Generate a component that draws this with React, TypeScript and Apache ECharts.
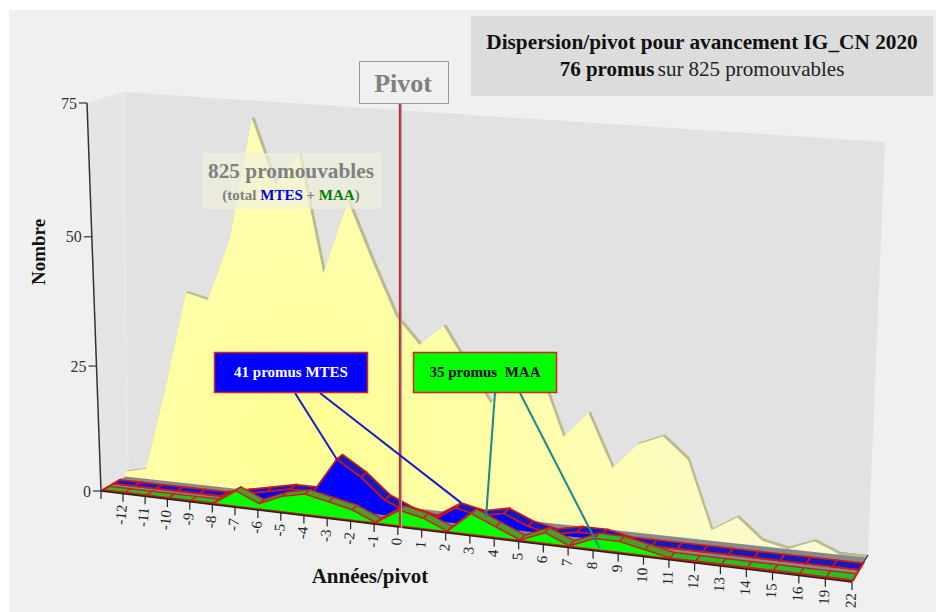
import React, { useEffect, useRef } from "react";
import * as echarts from "echarts";

const categories = ["", "-12", "-11", "-10", "-9", "-8", "-7", "-6", "-5", "-4", "-3", "-2", "-1", "0", "1", "2", "3", "4", "5", "6", "7", "8", "9", "10", "11", "12", "13", "14", "15", "16", "19", "22"];
const totalValues = [1, 2, 19, 38, 37, 49, 72, 60, 66, 44, 58, 47, 37, 32, 36, 29, 22, 29, 29, 17, 22, 12, 17, 19, 15, 2, 5, 1, 0, 2, 0, 0];
const mtesValues = [0, 0, 0, 0, 0, 0, 1, 2, 3, 3, 10, 7, 3, 1, 0, 3, 2, 3, 1, 0, 1, 1, 0, 0, 0, 0, 0, 0, 0, 0, 0, 0];
const maaValues = [0, 0, 0, 0, 0, 0, 3, 1, 3, 4, 3, 2, 0, 3, 2, 0, 4, 2, 0, 2, 0, 2, 2, 1, 0, 0, 0, 0, 0, 0, 0, 0];
const yTicks = [0, 25, 50, 75];

const GRID = { left: 100, top: 100, width: 700, height: 400 };
type P2 = [number, number];
const FL0: P2 = [101, 491], FR0: P2 = [852, 582], BR0: P2 = [868, 555], BL0: P2 = [128, 475];
const FL1: P2 = [87, 103], FR1: P2 = [861, 164], BR1: P2 = [885, 142], BL1: P2 = [123, 92];
const warp = (s: number, w: number) => (s * w) / (1 + s * (w - 1));
const lerp = (a: P2, b: P2, t: number): P2 => [a[0] + (b[0] - a[0]) * t, a[1] + (b[1] - a[1]) * t];
function project(s: number, d: number, h: number): P2 {
  const bump = s < 0.36 ? Math.sin((Math.PI * s) / 0.36) : 0;
  const sw = warp(s, 0.905) - 0.006 * d * bump;
  const hw = warp(h, 0.95);
  const f0 = lerp(FL0, FR0, sw), b0 = lerp(BL0, BR0, sw);
  const f1 = lerp(FL1, FR1, sw), b1 = lerp(BL1, BR1, sw);
  return lerp(lerp(f0, b0, d), lerp(f1, b1, d), hw);
}
function pt(api: any, u: number, v: number, d: number): P2 {
  const c = api.coord([u, v]);
  return project((c[0] - GRID.left) / GRID.width, d, (GRID.top + GRID.height - c[1]) / GRID.height);
}
const poly = (points: P2[], style: any) => ({ type: "polygon", shape: { points }, style });
const line = (points: P2[], stroke: string, lineWidth: number) => ({ type: "polyline", shape: { points }, style: { stroke, lineWidth, fill: "none" } });

function ribbon(values: number[], z0: number, z1: number, o: any) {
  return (params: any, api: any) => {
    if (params.dataIndex !== values.length - 1) return null;
    const children: any[] = [];
    for (let i = 0; i < values.length - 1; i++) {
      const sloped = values[i] !== values[i + 1];
      children.push(poly(
        [pt(api, i, values[i], z0), pt(api, i + 1, values[i + 1], z0), pt(api, i + 1, values[i + 1], z1), pt(api, i, values[i], z1)],
        { fill: sloped ? o.topSlope : o.topFlat, stroke: o.edge || o.topSlope, lineWidth: o.edgeWidth },
      ));
    }
    const top = values.map((v, i) => pt(api, i, v, z0));
    const base = [pt(api, values.length - 1, 0, z0), pt(api, 0, 0, z0)];
    children.push(poly([...top, ...base], { fill: o.face }));
    if (o.edge) children.push(line(top, o.edge, o.edgeWidth));
    return { type: "group", children };
  };
}

const yellowFill = {
  type: "radial", x: 300, y: 440, r: 640, global: true,
  colorStops: [{ offset: 0, color: "#ffff94" }, { offset: 0.5, color: "#fdfdb6" }, { offset: 1, color: "#f7f7e2" }],
};
const SERIF = '"Liberation Serif", serif';

function buildOption() {
  const single = [[0, 0]];
  const custom = (name: string, z: number, data: any[], renderItem: any) => ({
    type: "custom", name, z, data, renderItem, silent: true, clip: false,
    coordinateSystem: "cartesian2d", encode: { x: 0, y: 1 },
  });
  return {
    animation: false,
    grid: GRID,
    xAxis: { type: "value", min: 0, max: categories.length - 1, show: false },
    yAxis: { type: "value", min: 0, max: 75, show: false },
    series: [
      custom("walls", 2, single, (_p: any, api: any) => ({
        type: "group",
        children: [
          poly([pt(api, 0, 75, 0), pt(api, 0, 75, 1), pt(api, 0, 0, 1), pt(api, 0, 0, 0)], { fill: "#e5e5e5" }),
          poly([pt(api, 0, 75, 1), pt(api, 31, 75, 1), pt(api, 31, 0, 1), pt(api, 0, 0, 1)], { fill: "#e2e2e2" }),
          line([pt(api, 0, 75, 1), pt(api, 0, 0, 1)], "#ececec", 1),
        ],
      })),
      custom("floor", 3, single, (_p: any, api: any) =>
        poly([pt(api, 0, 0, 0), pt(api, 31, 0, 0), pt(api, 31, 0, 1), pt(api, 0, 0, 1)], { fill: "#888888" })),
      custom("Total", 4, totalValues.map((v, i) => [i, v]), ribbon(totalValues, 0.9, 1, { face: yellowFill, topFlat: "#bdba8e", topSlope: "#bdba8e", edgeWidth: 0 })),
      custom("MTES", 5, mtesValues.map((v, i) => [i, v]), ribbon(mtesValues, 0.45, 0.7, { face: "#0000ff", topFlat: "#1818c0", topSlope: "#1818c0", edge: "#d01818", edgeWidth: 1.6 })),
      custom("MAA", 6, maaValues.map((v, i) => [i, v]), ribbon(maaValues, 0.07, 0.3, { face: "#00ff00", topFlat: "#22c022", topSlope: "#4f9a2c", edge: "#c82218", edgeWidth: 1.4 })),
      custom("frame", 7, single, (_p: any, api: any) => ({
        type: "group",
        children: [
          line([pt(api, 0, 0, 0.04), pt(api, 31, 0, 0.04)], "#d01818", 2),
          line([pt(api, 0, 0, 0.04), pt(api, 0, 0, 0.75)], "#d01818", 2),
          line([pt(api, 31, 0, 0.04), pt(api, 31, 0, 0.75)], "#d01818", 2),
          line([pt(api, 31, 0, 0.75), pt(api, 31, 0, 1)], "#333", 1.2),
          line([pt(api, 0, 0, 0), pt(api, 31, 0, 0)], "#222", 1.5),
          line([pt(api, 0, 75, 0), pt(api, 0, 0, 0)], "#333", 1.5),
        ],
      })),
      custom("xTicks", 8, categories.map((c, i) => [i, 0, c]), (p: any, api: any) => {
        const label = categories[p.dataIndex];
        const a = pt(api, p.dataIndex, 0, 0);
        const rot = ((84 + (4 * p.dataIndex) / 31) * Math.PI) / 180;
        return {
          type: "group",
          children: [
            line([a, [a[0], a[1] + 8]], "#222", 1.2),
            { type: "text", x: a[0] - 1, y: a[1] + 11, rotation: rot, style: { text: label, align: "right", verticalAlign: "middle", font: `15px ${SERIF}`, fill: "#222" } },
          ],
        };
      }),
      custom("yTicks", 8, yTicks.map((v) => [0, v]), (p: any, api: any) => {
        const a = pt(api, 0, yTicks[p.dataIndex], 0);
        return {
          type: "group",
          children: [
            line([[a[0] - 8, a[1]], a], "#333", 1.2),
            { type: "text", x: a[0] - 10, y: a[1], style: { text: String(yTicks[p.dataIndex]), align: "right", verticalAlign: "middle", font: `16px ${SERIF}`, fill: "#333" } },
          ],
        };
      }),
      custom("pivot", 9, single, (_p: any, api: any) => {
        const a = pt(api, 13, 0, 0);
        return {
          type: "group",
          children: [
            line([[a[0] + 3.5, 103], [a[0] + 3.5, a[1] + 1]], "#aaaaaa", 1.5),
            line([[a[0] + 2, 103], [a[0] + 2, a[1] + 1]], "#c02a2a", 2),
          ],
        };
      }),
      custom("leaders", 10, single, (_p: any, api: any) => ({
        type: "group",
        children: [
          line([[295, 393], pt(api, 10, 10, 0.45)], "#1a1ad0", 2),
          line([[320, 393], pt(api, 15, 3, 0.7)], "#1a1ad0", 2),
          line([[495, 393], pt(api, 16.4, 2.5, 0.3)], "#158a88", 2),
          line([[520, 393], pt(api, 21.2, 0.3, 0.07)], "#158a88", 2),
        ],
      })),
    ],
    graphic: {
      elements: [
        { type: "rect", z: 0, shape: { x: 9, y: 10, width: 927, height: 602 }, style: { fill: "#f0f0f0" } },
        { type: "rect", z: 100, shape: { x: 471, y: 16, width: 462, height: 80 }, style: { fill: "#dcdcdc" } },
        { type: "text", z: 101, x: 702, y: 42, style: { text: "Dispersion/pivot pour avancement IG_CN 2020", align: "center", verticalAlign: "middle", font: `bold 21.3px ${SERIF}`, fill: "#111" } },
        {
          type: "text", z: 101, x: 702, y: 69,
          style: {
            text: "{b|76 promus} {n|sur 825 promouvables}", align: "center", verticalAlign: "middle", fill: "#111",
            rich: { b: { font: `bold 21px ${SERIF}`, fill: "#111" }, n: { font: `21px ${SERIF}`, fill: "#222" } },
          },
        },
        { type: "rect", z: 100, shape: { x: 359.5, y: 61.5, width: 89, height: 42 }, style: { fill: "#f0f0f0", stroke: "#999", lineWidth: 1 } },
        { type: "text", z: 101, x: 403, y: 83, style: { text: "Pivot", align: "center", verticalAlign: "middle", font: `bold 26px ${SERIF}`, fill: "#808080" } },
        { type: "rect", z: 100, shape: { x: 202, y: 153, width: 180, height: 56 }, style: { fill: "rgba(240,240,220,0.72)" } },
        { type: "text", z: 101, x: 291, y: 171, style: { text: "825 promouvables", align: "center", verticalAlign: "middle", font: `bold 21.3px ${SERIF}`, fill: "#808080" } },
        {
          type: "text", z: 101, x: 291, y: 195,
          style: {
            text: "{g|(total }{b|MTES}{g| + }{v|MAA}{g|)}", align: "center", verticalAlign: "middle",
            rich: {
              g: { font: `bold 15px ${SERIF}`, fill: "#808080" },
              b: { font: `bold 15px ${SERIF}`, fill: "#0000e0" },
              v: { font: `bold 15px ${SERIF}`, fill: "#008000" },
            },
          },
        },
        { type: "rect", z: 100, shape: { x: 214.5, y: 352.5, width: 153, height: 40 }, style: { fill: "#0000ff", stroke: "#e02020", lineWidth: 1.5 } },
        { type: "text", z: 101, x: 291, y: 372, style: { text: "41 promus MTES", align: "center", verticalAlign: "middle", font: `bold 15px ${SERIF}`, fill: "#ffffff" } },
        { type: "rect", z: 100, shape: { x: 413.5, y: 352.5, width: 143, height: 40 }, style: { fill: "#00ff00", stroke: "#e02020", lineWidth: 1.5 } },
        { type: "text", z: 101, x: 485, y: 372, style: { text: "35 promus  MAA", align: "center", verticalAlign: "middle", font: `bold 15px ${SERIF}`, fill: "#000000" } },
        { type: "text", z: 101, x: 38, y: 252, rotation: Math.PI / 2, style: { text: "Nombre", align: "center", verticalAlign: "middle", font: `bold 19px ${SERIF}`, fill: "#111" } },
        { type: "text", z: 101, x: 370, y: 576, style: { text: "Années/pivot", align: "center", verticalAlign: "middle", font: `bold 21px ${SERIF}`, fill: "#111" } },
      ],
    },
  };
}

export default function App() {
  const ref = useRef<HTMLDivElement>(null);
  useEffect(() => {
    const chart = echarts.init(ref.current!, undefined, { renderer: "svg" });
    chart.setOption(buildOption() as any);
    return () => chart.dispose();
  }, []);
  return <div ref={ref} style={{ position: "absolute", left: 0, top: 0, width: 936, height: 612, background: "#fff" }} />;
}
